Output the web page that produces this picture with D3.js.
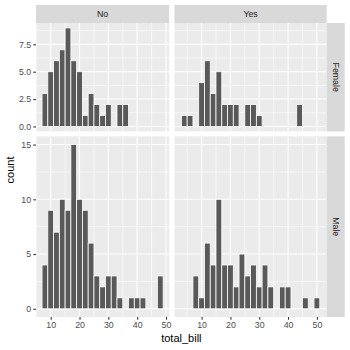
<!DOCTYPE html>
<html>
<head>
<meta charset="utf-8">
<script src="https://cdn.jsdelivr.net/npm/d3@7"></script>
<style>
  html, body { margin: 0; padding: 0; background: #ffffff; }
  svg { display: block; }
  text { font-family: "Liberation Sans", Arial, Helvetica, sans-serif; }
</style>
</head>
<body>
<svg id="chart" width="350" height="350"></svg>
<script>
// Histogram of total_bill, faceted by sex (rows) and smoker (columns).
const smokerLevels = ["No", "Yes"];
const sexLevels = ["Female", "Male"];

const binWidth = 2;
const binStartNo = 7;   // first bin edge, smoker = No
const binStartYes = 3;  // first bin edge, smoker = Yes

const femaleNoCounts  = [3, 5, 6, 7, 9, 6, 5, 1, 3, 2, 1, 2, 0, 2, 2, 0, 0, 0, 0, 0, 0];
const femaleYesCounts = [1, 1, 0, 4, 6, 3, 5, 2, 2, 2, 0, 2, 2, 1, 0, 0, 0, 0, 0, 0, 2, 0, 0, 0];
const maleNoCounts    = [4, 9, 7, 10, 9, 15, 10, 9, 6, 3, 2, 3, 3, 1, 0, 1, 1, 1, 0, 0, 3];
const maleYesCounts   = [0, 0, 3, 1, 6, 4, 10, 4, 4, 2, 5, 3, 4, 2, 4, 2, 0, 2, 2, 0, 0, 1, 0, 1];

const xTickValues = [10, 20, 30, 40, 50];
const yTicksFemale = [0, 2.5, 5, 7.5];
const yTicksMale = [0, 5, 10, 15];

const countsBy = {
  Female: { No: femaleNoCounts, Yes: femaleYesCounts },
  Male:   { No: maleNoCounts,   Yes: maleYesCounts }
};
const binStartBy = { No: binStartNo, Yes: binStartYes };
const yTicksBy = { Female: yTicksFemale, Male: yTicksMale };

// Layout
const panelsLeft = 36, panelsRight = 326.7, colGap = 5.3;
const panelsTop = 23, panelsBottom = 317, rowGap = 5;
const stripSize = 18;

const svg = d3.select("#chart");

function expand(lo, hi) {
  const pad = (hi - lo) * 0.05;
  return [lo - pad, hi + pad];
}

// x domains (free per column), widths proportional to range
const xDomains = {};
smokerLevels.forEach(s => {
  const n = countsBy.Female[s].length;
  const lo = binStartBy[s], hi = binStartBy[s] + n * binWidth;
  xDomains[s] = expand(lo, hi);
});
const xSpan = smokerLevels.map(s => xDomains[s][1] - xDomains[s][0]);
const totalW = panelsRight - panelsLeft - colGap;
const xScales = {};
let cx = panelsLeft;
smokerLevels.forEach((s, i) => {
  const w = totalW * xSpan[i] / d3.sum(xSpan);
  xScales[s] = d3.scaleLinear().domain(xDomains[s]).range([cx, cx + w]);
  cx += w + colGap;
});

// y domains (free per row), heights proportional to range
const yDomains = {};
sexLevels.forEach(r => {
  const m = d3.max(smokerLevels, s => d3.max(countsBy[r][s]));
  yDomains[r] = expand(0, m);
});
const ySpan = sexLevels.map(r => yDomains[r][1] - yDomains[r][0]);
const totalH = panelsBottom - panelsTop - rowGap;
const yScales = {};
let cy = panelsTop;
sexLevels.forEach((r, i) => {
  const h = totalH * ySpan[i] / d3.sum(ySpan);
  yScales[r] = d3.scaleLinear().domain(yDomains[r]).range([cy + h, cy]);
  cy += h + rowGap;
});

function minorBreaks(majors, domain) {
  const step = majors[1] - majors[0];
  const out = [];
  for (let v = majors[0] - step / 2; v <= majors[majors.length - 1] + step / 2; v += step) {
    if (v >= domain[0] && v <= domain[1]) out.push(v);
  }
  return out;
}

// Panels
sexLevels.forEach(r => {
  smokerLevels.forEach(s => {
    const x = xScales[s], y = yScales[r];
    const [x0, x1] = x.range();
    const [y1, y0] = y.range();
    const g = svg.append("g");
    g.append("rect")
      .attr("x", x0).attr("y", y0)
      .attr("width", x1 - x0).attr("height", y1 - y0)
      .attr("fill", "#EBEBEB");

    const xMinor = minorBreaks(xTickValues, x.domain());
    const yMinor = minorBreaks(yTicksBy[r], y.domain());
    g.selectAll(".xminor").data(xMinor).enter().append("line")
      .attr("x1", d => x(d)).attr("x2", d => x(d))
      .attr("y1", y0).attr("y2", y1)
      .attr("stroke", "#ffffff").attr("stroke-width", 0.55);
    g.selectAll(".yminor").data(yMinor).enter().append("line")
      .attr("x1", x0).attr("x2", x1)
      .attr("y1", d => y(d)).attr("y2", d => y(d))
      .attr("stroke", "#ffffff").attr("stroke-width", 0.55);
    g.selectAll(".xmajor").data(xTickValues.filter(v => v >= x.domain()[0] && v <= x.domain()[1]))
      .enter().append("line")
      .attr("x1", d => x(d)).attr("x2", d => x(d))
      .attr("y1", y0).attr("y2", y1)
      .attr("stroke", "#ffffff").attr("stroke-width", 1.07);
    g.selectAll(".ymajor").data(yTicksBy[r]).enter().append("line")
      .attr("x1", x0).attr("x2", x1)
      .attr("y1", d => y(d)).attr("y2", d => y(d))
      .attr("stroke", "#ffffff").attr("stroke-width", 1.07);

    const counts = countsBy[r][s];
    const start = binStartBy[s];
    g.selectAll(".bar").data(counts).enter().append("rect")
      .attr("x", (d, i) => x(start + i * binWidth))
      .attr("width", (d, i) => x(start + (i + 1) * binWidth) - x(start + i * binWidth))
      .attr("y", d => y(d))
      .attr("height", d => y(0) - y(d))
      .attr("fill", "#595959")
      .attr("stroke", "#ffffff")
      .attr("stroke-width", 0.8);
  });
});

// Column strips
smokerLevels.forEach(s => {
  const [x0, x1] = xScales[s].range();
  svg.append("rect")
    .attr("x", x0).attr("y", panelsTop - stripSize)
    .attr("width", x1 - x0).attr("height", stripSize)
    .attr("fill", "#D9D9D9");
  svg.append("text")
    .attr("x", (x0 + x1) / 2).attr("y", panelsTop - stripSize / 2)
    .attr("text-anchor", "middle").attr("dominant-baseline", "central")
    .attr("font-size", 8.8).attr("fill", "#1A1A1A")
    .text(s);
});

// Row strips
sexLevels.forEach(r => {
  const [y1, y0] = yScales[r].range();
  svg.append("rect")
    .attr("x", panelsRight).attr("y", y0)
    .attr("width", stripSize).attr("height", y1 - y0)
    .attr("fill", "#D9D9D9");
  const tx = panelsRight + stripSize / 2, ty = (y0 + y1) / 2;
  svg.append("text")
    .attr("transform", `translate(${tx},${ty}) rotate(90)`)
    .attr("text-anchor", "middle").attr("dominant-baseline", "central")
    .attr("font-size", 8.8).attr("fill", "#1A1A1A")
    .text(r);
});

// Y axes (left column only)
sexLevels.forEach(r => {
  const fmt = r === "Female" ? d3.format(".1f") : d3.format("d");
  const axis = d3.axisLeft(yScales[r]).tickValues(yTicksBy[r]).tickFormat(fmt)
    .tickSizeInner(2.7).tickSizeOuter(0).tickPadding(2.2);
  const g = svg.append("g").attr("transform", `translate(${panelsLeft},0)`).call(axis);
  g.select(".domain").remove();
  g.selectAll(".tick line").attr("stroke", "#333333").attr("stroke-width", 1.07);
  g.selectAll(".tick text").attr("fill", "#4D4D4D").attr("font-size", 8.8)
    .attr("font-family", "Liberation Sans, Arial, sans-serif");
});

// X axes (bottom row only)
smokerLevels.forEach(s => {
  const axis = d3.axisBottom(xScales[s]).tickValues(xTickValues)
    .tickSizeInner(2.7).tickSizeOuter(0).tickPadding(2.2);
  const g = svg.append("g").attr("transform", `translate(0,${panelsBottom})`).call(axis);
  g.select(".domain").remove();
  g.selectAll(".tick line").attr("stroke", "#333333").attr("stroke-width", 1.07);
  g.selectAll(".tick text").attr("fill", "#4D4D4D").attr("font-size", 8.8)
    .attr("font-family", "Liberation Sans, Arial, sans-serif");
});

// Axis titles
svg.append("text")
  .attr("x", (panelsLeft + panelsRight) / 2).attr("y", 342)
  .attr("text-anchor", "middle").attr("font-size", 11).attr("fill", "#000000")
  .text("total_bill");
svg.append("text")
  .attr("transform", `translate(14,${(panelsTop + panelsBottom) / 2}) rotate(-90)`)
  .attr("text-anchor", "middle").attr("font-size", 11).attr("fill", "#000000")
  .text("count");
</script>
</body>
</html>
